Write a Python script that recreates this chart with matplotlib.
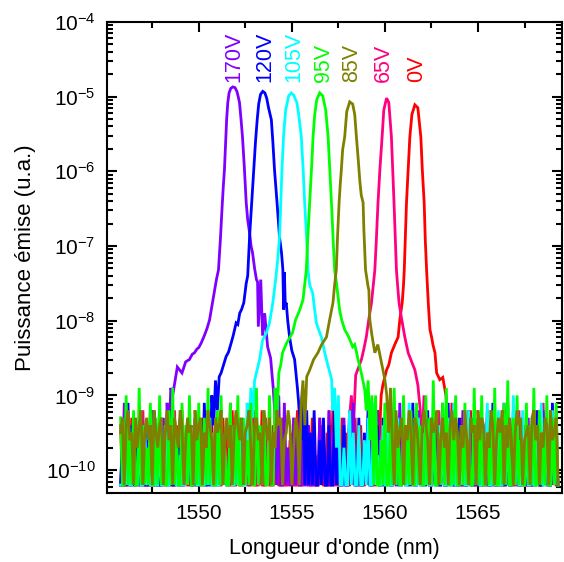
import numpy as np
import matplotlib
matplotlib.use("Agg")
import matplotlib.pyplot as plt
from matplotlib.ticker import FixedLocator, LogLocator, NullFormatter

plt.rcParams['font.family'] = ['Liberation Sans', 'DejaVu Sans']
plt.rcParams['mathtext.default'] = 'regular'

# ---------------- data ----------------
labels = ["0V", "65V", "170V", "120V", "105V", "95V", "85V"]
colors = ["#FF0000", "#FF0080", "#8000FF", "#0000FF", "#00FFFF", "#00FF00", "#808000"]
label_wl = [1561.72, 1559.94, 1551.88, 1553.54, 1555.10, 1556.71, 1558.22]
x_ticks = [1550, 1555, 1560, 1565]
x_minor = [1547.5, 1552.5, 1557.5, 1562.5, 1567.5]
y_ticks = [1e-10, 1e-9, 1e-8, 1e-7, 1e-6, 1e-5, 1e-4]

grid_start = 1545.8   # nm, first sample of the noise floor records
grid_step = 0.1       # nm

# noise floor, log10(power) in tenths of a decade, sampled every 0.1 nm
noise_0 = [
 -94,-102,-102,-97,-102,-102,-93,-102,-96,-102,-102,-98,-102,-94,-102,-102,-92,-102,-102,-96,
 -102,-102,-93,-102,-102,-95,-102,-97,-102,-102,-94,-102,-102,-92,-102,-96,-102,-102,-98,-102,
 -102,-95,-102,-102,-93,-102,-102,-96,-102,-94,-102,-102,-97,-102,-102,-93,-102,-95,-102,-102,
 -92,-102,-102,-96,-102,-102,-94,-102,-98,-102,-102,-93,-102,-102,-95,-102,-92,-102,-102,-97,
 -102,-102,-94,-102,-96,-102,-102,-93,-102,-102,-97,-102,-95,-102,-102,-92,-102,-102,-94,-102,
 -96,-102,-102,-93,-102,-102,-98,-102,-94,-102,-102,-95,-102,-102,-92,-102,-96,-102,-102,-93,
 -102,-95,-102,-102,-97,-102,-93,-102,-102,-94,-102,-102,-96,-102,-92,-102,-102,-95,-102,-102,
 -93,-102,-102,-96,-102,-94,-102,-102,-91,-102,-102,-97,-102,-93,-102,-102,-95,-102,-102,-92,
 -102,-102,-94,-102,-97,-102,-102,-93,-102,-96,-102,-102,-92,-102,-102,-95,-102,-94,-102,-102,
 -97,-102,-102,-93,-102,-102,-95,-102,-92,-102,-102,-96,-102,-102,-94,-102,-98,-102,-102,-93,
 -102,-94,-102,-102,-96,-102,-102,-92,-102,-95,-102,-102,-93,-102,-97,-102,-102,-94,-102,-102,
 -95,-102,-102,-92,-102,-96,-102,-102,-94,-102,-102,-93,-102,-97,-102,-102]
noise_65 = [
 -102,-97,-102,-102,-93,-102,-102,-95,-102,-102,-98,-102,-92,-102,-102,-96,-102,-102,-94,-102,
 -102,-93,-102,-102,-97,-102,-94,-102,-102,-92,-102,-102,-96,-102,-102,-95,-102,-93,-102,-102,
 -98,-102,-102,-94,-102,-102,-92,-102,-96,-102,-102,-93,-102,-102,-97,-102,-95,-102,-102,-91,
 -102,-102,-96,-102,-93,-102,-102,-98,-102,-102,-94,-102,-92,-102,-102,-96,-102,-102,-93,-102,
 -95,-102,-102,-92,-102,-97,-102,-102,-94,-102,-102,-96,-102,-93,-102,-102,-91,-102,-102,-95,
 -102,-94,-102,-102,-96,-102,-102,-93,-102,-98,-102,-102,-92,-102,-95,-102,-102,-94,-102,-102,
 -97,-102,-102,-93,-102,-102,-95,-102,-91,-102,-102,-96,-102,-102,-94,-102,-92,-102,-102,-97,
 -102,-102,-94,-102,-96,-102,-102,-92,-102,-102,-95,-102,-93,-102,-102,-97,-102,-102,-91,-102,
 -96,-102,-102,-94,-102,-93,-102,-102,-97,-102,-102,-92,-102,-95,-102,-102,-94,-102,-102,-93,
 -102,-95,-102,-102,-92,-102,-102,-96,-102,-94,-102,-102,-98,-102,-93,-102,-102,-95,-102,-102,
 -93,-102,-102,-96,-102,-102,-94,-102,-91,-102,-102,-95,-102,-102,-92,-102,-97,-102,-102,-94,
 -102,-102,-93,-102,-96,-102,-102,-91,-102,-95,-102,-102,-94,-102,-92,-102]
noise_170 = [
 -102,-102,-91,-102,-95,-102,-102,-93,-102,-97,-102,-102,-94,-102,-102,-96,-102,-92,-102,-102,
 -98,-102,-102,-93,-102,-95,-102,-102,-92,-102,-102,-96,-102,-94,-102,-102,-91,-102,-97,-102,
 -102,-94,-102,-102,-96,-102,-93,-102,-102,-95,-102,-102,-92,-102,-98,-102,-102,-94,-102,-91,
 -102,-102,-95,-102,-93,-102,-102,-97,-102,-92,-102,-102,-94,-102,-96,-102,-102,-93,-102,-102,
 -96,-102,-102,-92,-102,-94,-102,-102,-91,-102,-97,-102,-102,-93,-102,-95,-102,-102,-92,-102,
 -102,-94,-102,-102,-97,-102,-102,-93,-102,-96,-102,-102,-92,-102,-102,-95,-102,-94,-102,-102,
 -93,-102,-102,-96,-102,-91,-102,-102,-94,-102,-102,-97,-102,-93,-102,-102,-95,-102,-92,-102,
 -102,-102,-94,-102,-96,-102,-102,-93,-102,-102,-91,-102,-95,-102,-102,-94,-102,-97,-102,-102,
 -92,-102,-102,-95,-102,-93,-102,-102,-96,-102,-94,-102,-102,-91,-102,-102,-97,-102,-93,-102,
 -102,-96,-102,-102,-92,-102,-102,-95,-102,-93,-102,-102,-97,-102,-94,-102,-102,-92,-102,-102,
 -95,-102,-102,-93,-102,-102,-91,-102,-96,-102,-102,-94,-102,-92,-102,-102,-95,-102,-102,-93,
 -102,-102,-94,-102,-97,-102,-102,-92,-102,-95,-102,-102,-93,-102,-96,-102]
noise_120 = [
 -102,-96,-102,-102,-91,-102,-94,-102,-102,-97,-102,-93,-102,-102,-95,-102,-102,-92,-102,-98,
 -102,-102,-94,-102,-96,-102,-102,-92,-102,-102,-95,-102,-93,-102,-102,-97,-102,-94,-102,-102,
 -93,-102,-102,-96,-102,-91,-102,-102,-94,-102,-98,-102,-102,-92,-102,-95,-102,-102,-93,-102,
 -102,-97,-102,-102,-93,-102,-95,-102,-102,-91,-102,-102,-96,-102,-94,-102,-102,-92,-102,-102,
 -95,-102,-102,-93,-102,-102,-97,-102,-92,-102,-102,-94,-102,-102,-96,-102,-91,-102,-102,-93,
 -102,-102,-95,-102,-92,-102,-102,-96,-102,-93,-102,-102,-94,-102,-102,-91,-102,-97,-102,-102,
 -94,-102,-102,-92,-102,-96,-102,-102,-93,-102,-102,-95,-102,-91,-102,-102,-97,-102,-94,-102,
 -102,-93,-102,-102,-96,-102,-102,-92,-102,-95,-102,-102,-93,-102,-98,-102,-102,-91,-102,-102,
 -96,-102,-94,-102,-102,-92,-102,-102,-97,-102,-93,-102,-102,-95,-102,-102,-91,-102,-94,-102,
 -102,-102,-93,-102,-96,-102,-102,-92,-102,-102,-95,-102,-94,-102,-102,-97,-102,-93,-102,-102,
 -91,-102,-102,-95,-102,-93,-102,-102,-96,-102,-102,-92,-102,-94,-102,-102,-98,-102,-93,-102,
 -102,-95,-102,-102,-92,-102,-102,-96,-102,-94,-102,-102,-91,-102,-97,-102]
noise_105 = [
 -102,-102,-95,-102,-98,-102,-102,-93,-102,-102,-96,-102,-102,-94,-102,-99,-102,-102,-92,-102,
 -102,-97,-102,-102,-94,-102,-102,-96,-102,-93,-102,-102,-98,-102,-102,-95,-102,-92,-102,-102,
 -96,-102,-102,-94,-102,-102,-97,-102,-93,-102,-102,-95,-102,-102,-92,-102,-98,-102,-102,-94,
 -102,-102,-93,-102,-96,-102,-102,-94,-102,-102,-91,-102,-97,-102,-102,-95,-102,-102,-93,-102,
 -98,-102,-102,-94,-102,-92,-102,-102,-96,-102,-102,-93,-102,-95,-102,-102,-97,-102,-92,-102,
 -102,-95,-102,-102,-93,-102,-98,-102,-102,-94,-102,-102,-91,-102,-96,-102,-102,-93,-102,-102,
 -97,-102,-102,-92,-102,-95,-102,-102,-94,-102,-102,-96,-102,-93,-102,-102,-91,-102,-98,-102,
 -102,-94,-102,-102,-92,-102,-102,-97,-102,-93,-102,-102,-95,-102,-102,-91,-102,-96,-102,-102,
 -93,-102,-102,-95,-102,-98,-102,-102,-92,-102,-102,-94,-102,-96,-102,-102,-93,-102,-102,-91,
 -102,-102,-96,-102,-94,-102,-102,-92,-102,-102,-97,-102,-93,-102,-102,-95,-102,-91,-102,-102,
 -94,-102,-102,-92,-102,-102,-96,-102,-93,-102,-102,-90,-102,-95,-102,-102,-92,-102,-97,-102,
 -102,-93,-102,-102,-95,-102,-91,-102,-102,-94,-102,-102,-92,-102,-96,-102]
noise_95 = [
 -93,-102,-102,-90,-102,-95,-102,-92,-102,-102,-89,-102,-94,-102,-97,-102,-91,-102,-102,-93,
 -102,-90,-102,-96,-102,-102,-92,-102,-89,-102,-95,-102,-102,-91,-102,-94,-102,-90,-102,-102,
 -96,-102,-91,-102,-102,-93,-102,-89,-102,-95,-102,-102,-92,-102,-90,-102,-97,-102,-102,-91,
 -102,-94,-102,-90,-102,-102,-93,-102,-96,-102,-91,-102,-102,-89,-102,-94,-102,-92,-102,-102,
 -90,-102,-95,-102,-102,-92,-102,-91,-102,-102,-94,-102,-89,-102,-96,-102,-102,-91,-102,-93,
 -102,-102,-90,-102,-94,-102,-92,-102,-102,-95,-102,-89,-102,-93,-102,-102,-91,-102,-96,-102,
 -92,-102,-102,-90,-102,-93,-102,-102,-89,-102,-95,-102,-91,-102,-102,-94,-102,-90,-102,-102,
 -96,-102,-91,-102,-102,-93,-102,-89,-102,-94,-102,-102,-90,-102,-95,-102,-92,-102,-102,-91,
 -102,-94,-102,-102,-90,-102,-93,-102,-88,-102,-102,-95,-102,-91,-102,-89,-102,-102,-93,-102,
 -90,-102,-102,-94,-102,-91,-102,-96,-102,-102,-89,-102,-93,-102,-90,-102,-102,-95,-102,-92,
 -102,-89,-102,-102,-94,-102,-91,-102,-88,-102,-102,-93,-102,-90,-102,-96,-102,-102,-91,-102,
 -94,-102,-89,-102,-102,-92,-102,-95,-102,-90,-102,-102,-93,-102,-91,-102]
noise_85 = [
 -95,-93,-102,-94,-92,-96,-95,-102,-93,-97,-94,-92,-102,-95,-93,-96,-94,-102,-92,-95,
 -97,-94,-93,-102,-95,-92,-96,-94,-102,-93,-95,-97,-92,-94,-102,-96,-93,-95,-94,-102,
 -92,-96,-94,-93,-102,-95,-97,-92,-94,-96,-102,-93,-95,-94,-92,-102,-96,-93,-97,-94,
 -102,-95,-92,-94,-96,-93,-102,-95,-94,-92,-97,-102,-94,-93,-96,-95,-102,-92,-94,-96,
 -93,-102,-95,-97,-92,-94,-93,-102,-96,-95,-92,-94,-102,-97,-93,-95,-94,-102,-92,-96,
 -94,-93,-102,-95,-92,-96,-94,-97,-102,-93,-95,-92,-94,-102,-96,-93,-95,-94,-102,-92,
 -96,-94,-93,-102,-95,-97,-92,-94,-102,-96,-93,-95,-92,-102,-94,-96,-93,-97,-102,-95,
 -92,-94,-102,-96,-93,-95,-94,-102,-92,-97,-95,-93,-102,-94,-96,-92,-95,-102,-93,-94,
 -97,-102,-95,-92,-94,-96,-102,-93,-95,-94,-92,-102,-96,-93,-97,-95,-102,-94,-92,-96,
 -93,-95,-102,-94,-97,-92,-96,-102,-93,-95,-94,-102,-92,-96,-93,-94,-102,-95,-97,-92,
 -94,-102,-96,-93,-95,-92,-102,-94,-97,-93,-96,-102,-95,-92,-94,-93,-102,-96,-95,-94,
 -102,-93,-92,-96,-94,-102,-95,-97,-93,-94,-102,-92,-96,-95,-93,-102]

# emission peaks with their skirts: wavelength (nm) and log10(power)
peak_wl_0 = [1559.50, 1559.60, 1559.70, 1559.80,
             1559.89, 1560.09, 1560.21, 1560.35, 1560.53, 1560.71, 1560.80, 1560.93, 1561.00,
             1561.04, 1561.10, 1561.16, 1561.25, 1561.34, 1561.45, 1561.61, 1561.77, 1561.93,
             1562.01, 1562.11, 1562.17, 1562.24, 1562.33, 1562.42, 1562.51, 1562.58, 1562.69,
             1562.78, 1562.95, 1563.11, 1563.28,
             1563.40, 1563.50, 1563.60, 1563.70]
peak_lp_0 = [-10.2, -9.2, -9.6, -9.0,
             -8.86, -8.66, -8.59, -8.43, -8.32, -8.22, -7.99, -7.76, -7.52,
             -7.32, -6.85, -6.42, -5.98, -5.54, -5.24, -5.11, -5.15, -5.54,
             -5.98, -6.42, -6.92, -7.32, -7.76, -8.12, -8.22, -8.32, -8.43,
             -8.70, -8.79, -8.76, -9.00,
             -9.4, -10.2, -9.1, -10.2]
peak_wl_65 = [1558.00, 1558.10, 1558.20, 1558.30,
              1558.43, 1558.74, 1558.86, 1559.00, 1559.13, 1559.28, 1559.38, 1559.46, 1559.54,
              1559.63, 1559.73, 1559.85, 1559.94, 1560.09, 1560.21, 1560.35, 1560.42, 1560.49,
              1560.56, 1560.62, 1560.69, 1560.76, 1560.86, 1560.96, 1561.07, 1561.25, 1561.39,
              1561.61, 1561.77,
              1561.90, 1562.00, 1562.10, 1562.20]
peak_lp_65 = [-10.2, -9.3, -9.0, -9.5,
              -8.73, -8.52, -8.39, -8.22, -7.99, -7.76, -7.52, -7.32, -6.92,
              -6.42, -5.98, -5.54, -5.18, -5.02, -5.08, -5.54, -5.98, -6.42,
              -6.92, -7.32, -7.55, -7.76, -7.92, -8.06, -8.22, -8.43, -8.52,
              -8.66, -8.86,
              -9.2, -9.7, -9.0, -10.2]
peak_wl_170 = [1548.00, 1548.10, 1548.20, 1548.30, 1548.40, 1548.50,
               1548.60, 1548.85, 1549.10, 1549.30, 1549.50, 1549.65, 1549.77, 1549.90, 1550.00,
               1550.13, 1550.30, 1550.45, 1550.58, 1550.74, 1550.85, 1550.95, 1551.06, 1551.17,
               1551.25, 1551.32, 1551.38, 1551.45, 1551.50, 1551.56, 1551.63, 1551.72, 1551.83,
               1551.95, 1552.05, 1552.12, 1552.19, 1552.27, 1552.35, 1552.45, 1552.55, 1552.63,
               1552.73, 1552.81, 1552.89, 1553.00, 1553.10, 1553.16, 1553.20, 1553.33, 1553.43,
               1553.54, 1553.70, 1553.86, 1554.00,
               1554.10, 1554.20, 1554.30, 1554.40]
peak_lp_170 = [-10.2, -9.3, -10.2, -9.1, -9.6, -8.9,
               -9.00, -8.62, -8.70, -8.55, -8.52, -8.45, -8.43, -8.38, -8.36,
               -8.30, -8.20, -8.10, -7.99, -7.76, -7.60, -7.45, -7.32, -6.88,
               -6.50, -6.20, -5.98, -5.60, -5.30, -5.08, -4.95, -4.89, -4.87,
               -4.88, -4.93, -5.00, -5.08, -5.30, -5.54, -5.95, -6.42, -6.65,
               -6.82, -7.00, -7.09, -7.30, -7.45, -7.48, -8.08, -7.45, -8.20,
               -7.90, -8.35, -8.50, -8.90,
               -9.3, -10.2, -9.0, -10.2]
peak_wl_120 = [1550.60, 1550.70, 1550.80, 1550.90, 1551.00, 1551.10,
               1551.20, 1551.47, 1551.60, 1551.74, 1551.85, 1552.01, 1552.10, 1552.20, 1552.30,
               1552.42, 1552.55, 1552.63, 1552.73, 1552.85, 1552.96, 1553.05, 1553.14, 1553.22,
               1553.32, 1553.44, 1553.55, 1553.65, 1553.75, 1553.90, 1553.98, 1554.07, 1554.20,
               1554.34, 1554.45, 1554.52, 1554.56, 1554.60, 1554.65, 1554.70, 1554.78, 1554.88,
               1555.00, 1555.15, 1555.30, 1555.40,
               1555.50, 1555.60, 1555.70, 1555.80, 1555.90]
peak_lp_120 = [-10.2, -9.0, -9.4, -8.8, -9.2, -8.75,
               -8.70, -8.48, -8.42, -8.30, -8.20, -8.03, -8.05, -7.90, -7.85,
               -7.76, -7.50, -7.40, -6.88, -6.40, -5.98, -5.60, -5.31, -5.10,
               -4.97, -4.93, -4.95, -5.02, -5.15, -5.31, -5.60, -5.98, -6.40,
               -6.88, -7.10, -7.32, -7.85, -7.35, -7.80, -7.76, -8.00, -8.22,
               -8.40, -8.52, -8.90, -9.20,
               -9.6, -9.0, -10.2, -9.2, -10.2]
peak_wl_105 = [1552.50, 1552.60, 1552.70, 1552.80, 1552.90,
               1553.00, 1553.27, 1553.43, 1553.64, 1553.80, 1553.98, 1554.13, 1554.24, 1554.34,
               1554.40, 1554.47, 1554.56, 1554.67, 1554.83, 1554.97, 1555.10, 1555.27, 1555.37,
               1555.51, 1555.61, 1555.69, 1555.80, 1555.87, 1555.96, 1556.12, 1556.23, 1556.32,
               1556.44, 1556.59, 1556.77, 1556.93, 1557.14,
               1557.20, 1557.30, 1557.40, 1557.50, 1557.60]
peak_lp_105 = [-10.2, -9.1, -9.6, -8.9, -9.3,
               -8.80, -8.52, -8.26, -8.16, -8.03, -7.76, -7.45, -7.19, -6.88,
               -6.45, -5.98, -5.51, -5.18, -4.99, -4.95, -4.98, -5.08, -5.24,
               -5.54, -5.98, -6.42, -6.92, -7.32, -7.52, -7.63, -7.86, -8.03,
               -8.12, -8.22, -8.43, -8.59, -8.79,
               -9.2, -8.9, -9.7, -9.0, -10.2]
peak_wl_95 = [1554.00, 1554.10, 1554.20, 1554.30, 1554.40,
              1554.50, 1554.72, 1554.88, 1555.04, 1555.20, 1555.42, 1555.60, 1555.69, 1555.78,
              1555.85, 1555.96, 1556.07, 1556.14, 1556.23, 1556.34, 1556.50, 1556.66, 1556.82,
              1556.95, 1557.04, 1557.13, 1557.22, 1557.30, 1557.41, 1557.57, 1557.68, 1557.84,
              1558.00, 1558.11, 1558.27, 1558.38, 1558.56, 1558.76, 1558.92,
              1559.00, 1559.10, 1559.20, 1559.30, 1559.40]
peak_lp_95 = [-10.2, -8.9, -9.4, -8.7, -8.6,
              -8.43, -8.30, -8.23, -8.16, -7.99, -7.86, -7.72, -7.52, -7.32,
              -6.92, -6.42, -5.91, -5.54, -5.24, -5.04, -4.95, -4.99, -5.18,
              -5.54, -5.98, -6.42, -6.92, -7.32, -7.52, -7.86, -7.99, -8.12,
              -8.19, -8.25, -8.35, -8.32, -8.52, -8.73, -8.93,
              -9.2, -8.8, -9.6, -9.0, -10.2]
peak_wl_85 = [1555.40, 1555.50, 1555.60, 1555.70, 1555.80,
              1555.96, 1556.17, 1556.40, 1556.60, 1556.86, 1557.03, 1557.21, 1557.30, 1557.39,
              1557.46, 1557.54, 1557.60, 1557.66, 1557.73, 1557.84, 1557.95, 1558.11, 1558.27,
              1558.38, 1558.47, 1558.57, 1558.65, 1558.73, 1558.83, 1558.87, 1558.96, 1559.10,
              1559.14, 1559.19, 1559.30, 1559.46, 1559.62, 1559.82, 1560.00,
              1560.10, 1560.20, 1560.30, 1560.40, 1560.50]
peak_lp_85 = [-10.2, -9.1, -8.8, -9.4, -8.75,
              -8.66, -8.52, -8.43, -8.32, -8.22, -7.99, -7.76, -7.52, -7.32,
              -6.85, -6.42, -6.18, -5.98, -5.71, -5.54, -5.20, -5.07, -5.10,
              -5.24, -5.54, -5.85, -6.12, -6.32, -6.42, -6.78, -7.32, -7.55,
              -7.59, -7.99, -8.19, -8.43, -8.32, -8.57, -8.79,
              -9.0, -9.5, -8.9, -9.6, -10.2]

noise = [noise_0, noise_65, noise_170, noise_120, noise_105, noise_95, noise_85]
peak_wl = [peak_wl_0, peak_wl_65, peak_wl_170, peak_wl_120, peak_wl_105, peak_wl_95, peak_wl_85]
peak_lp = [peak_lp_0, peak_lp_65, peak_lp_170, peak_lp_120, peak_lp_105, peak_lp_95, peak_lp_85]
label_level = 1.55e-5

# ---------------- figure ----------------
fig = plt.figure(figsize=(5.64, 5.62), dpi=100)
ax = fig.add_axes([0.189, 0.123, 0.807, 0.838])

for nz, pw, pl, col in zip(noise, peak_wl, peak_lp, colors):
    nz = np.asarray(nz, dtype=float) / 10.0
    wl = grid_start + grid_step * np.arange(len(nz))
    pw = np.asarray(pw)
    pl = np.asarray(pl)
    keep = (wl < pw[0] - 1e-6) | (wl > pw[-1] + 1e-6)
    x = np.concatenate([wl[keep], pw])
    y = np.concatenate([nz[keep], pl])
    order = np.argsort(x)
    ax.plot(x[order], 10.0 ** y[order], color=col, lw=2.0, solid_joinstyle='miter')

for lab, lx, col in zip(labels, label_wl, colors):
    ax.text(lx, label_level, lab, rotation=90, ha='center', va='bottom',
            color=col, fontsize=15.5)

ax.set_yscale('log')
ax.set_xlim(1545.05, 1569.5)
ax.set_ylim(4.95e-11, 1e-4)

ax.xaxis.set_major_locator(FixedLocator(x_ticks))
ax.xaxis.set_minor_locator(FixedLocator(x_minor))
ax.yaxis.set_major_locator(FixedLocator(y_ticks))
ax.yaxis.set_minor_locator(LogLocator(base=10, subs=np.arange(2, 10), numticks=20))
ax.yaxis.set_minor_formatter(NullFormatter())

ax.tick_params(which='both', direction='in', top=True, right=True, width=1.5)
ax.tick_params(which='major', length=7, labelsize=15, pad=8)
ax.tick_params(which='minor', length=4)
for sp in ax.spines.values():
    sp.set_linewidth(1.5)

ax.set_xlabel("Longueur d'onde (nm)", fontsize=15.5, labelpad=11)
ax.set_ylabel("Puissance émise (u.a.)", fontsize=16, labelpad=7)

fig.savefig("out.png", dpi=100)
